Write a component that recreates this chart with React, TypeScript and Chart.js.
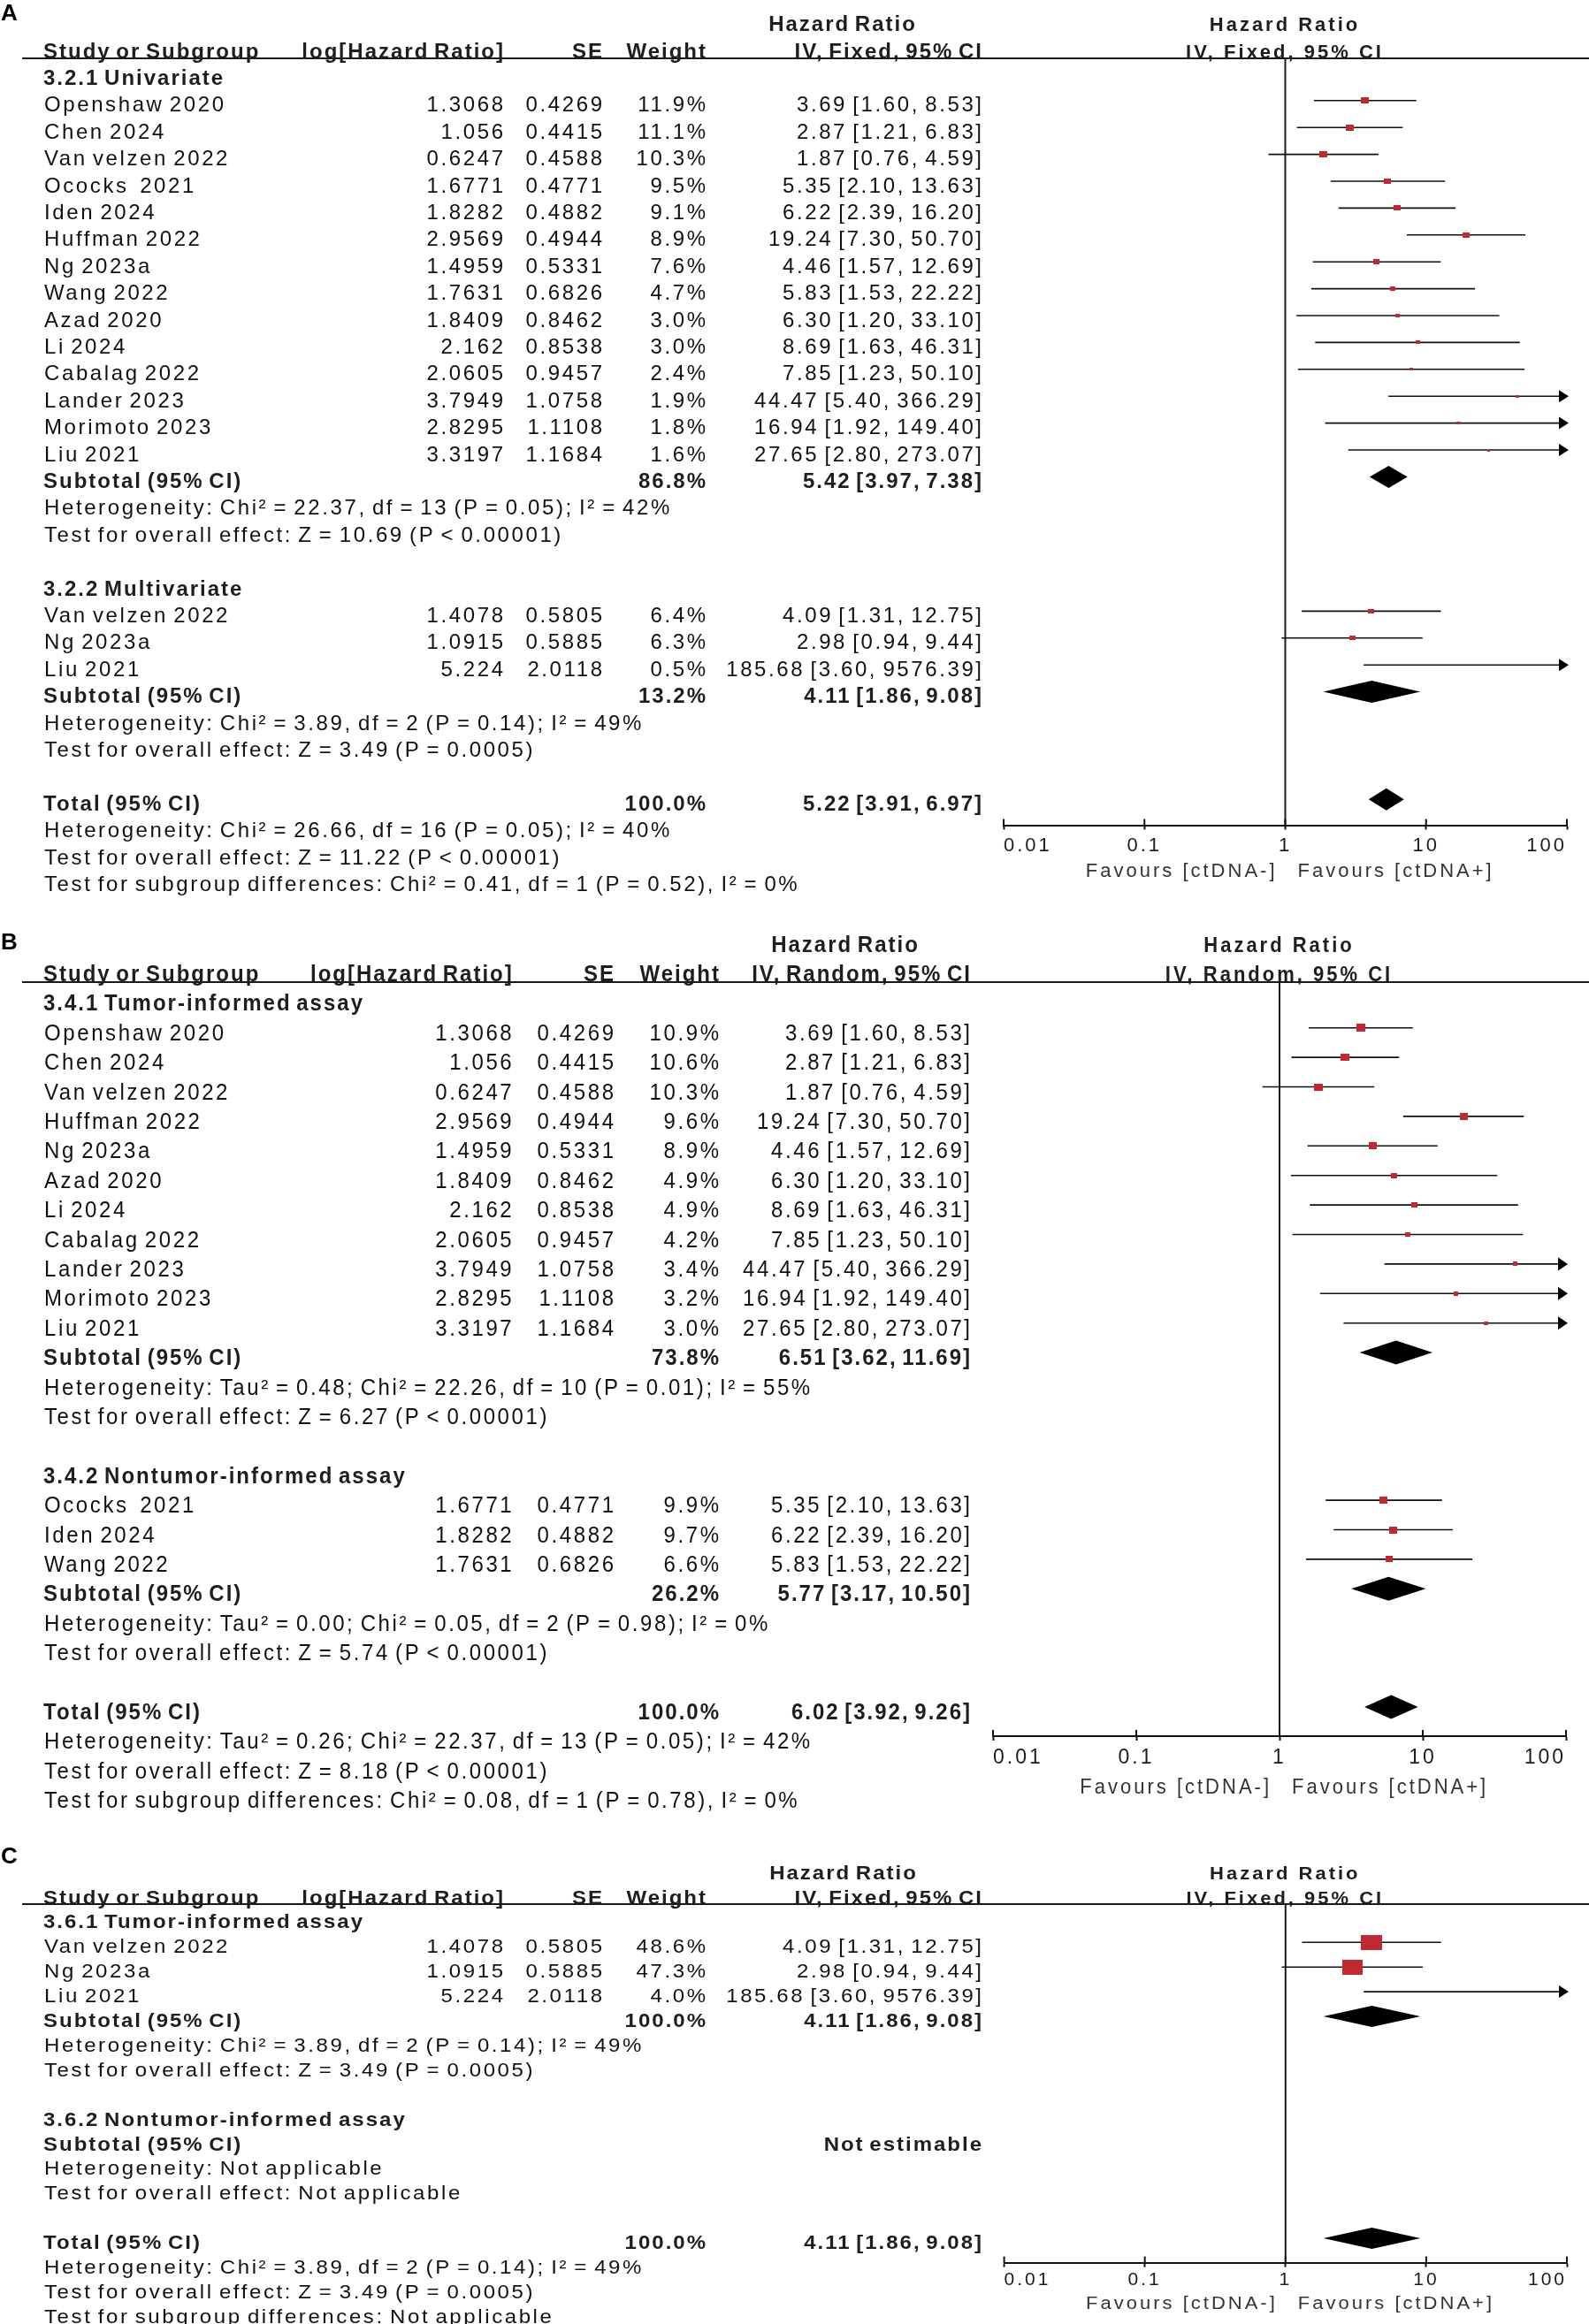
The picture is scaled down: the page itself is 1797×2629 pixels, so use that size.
import React, { useEffect, useRef } from "react";
import { Chart, registerables } from "chart.js";

Chart.register(...registerables);

const FONT = '"Liberation Sans", Arial, Helvetica, sans-serif';
const PAGE_W = 1797;

// ===================== shared labels =====================
const tickValues = [0.01, 0.1, 1, 10, 100];
const tickLabels = ["0.01", "0.1", "1", "10", "100"];
const favoursLabels = ["Favours [ctDNA-]", "Favours [ctDNA+]"];
const columnHeaders = ["Study or Subgroup", "log[Hazard Ratio]", "SE", "Weight"];
const effectTitle = "Hazard Ratio";
const subtotalLabel = "Subtotal (95% CI)";
const totalLabel = "Total (95% CI)";
const notEstimable = "Not estimable";

// ===================== Panel A =====================
const aMethod = "IV, Fixed, 95% CI";
const a1Title = "3.2.1 Univariate";
const a1Names = ["Openshaw 2020", "Chen 2024", "Van velzen 2022", "Ococks  2021", "Iden 2024", "Huffman 2022", "Ng 2023a", "Wang 2022", "Azad 2020", "Li 2024", "Cabalag 2022", "Lander 2023", "Morimoto 2023", "Liu 2021"];
const a1LogHR = [1.3068, 1.056, 0.6247, 1.6771, 1.8282, 2.9569, 1.4959, 1.7631, 1.8409, 2.162, 2.0605, 3.7949, 2.8295, 3.3197];
const a1SE = [0.4269, 0.4415, 0.4588, 0.4771, 0.4882, 0.4944, 0.5331, 0.6826, 0.8462, 0.8538, 0.9457, 1.0758, 1.1108, 1.1684];
const a1Weight = [11.9, 11.1, 10.3, 9.5, 9.1, 8.9, 7.6, 4.7, 3.0, 3.0, 2.4, 1.9, 1.8, 1.6];
const a1HR = [3.69, 2.87, 1.87, 5.35, 6.22, 19.24, 4.46, 5.83, 6.30, 8.69, 7.85, 44.47, 16.94, 27.65];
const a1Lower = [1.60, 1.21, 0.76, 2.10, 2.39, 7.30, 1.57, 1.53, 1.20, 1.63, 1.23, 5.40, 1.92, 2.80];
const a1Upper = [8.53, 6.83, 4.59, 13.63, 16.20, 50.70, 12.69, 22.22, 33.10, 46.31, 50.10, 366.29, 149.40, 273.07];
const a1Subtotal = [86.8, 5.42, 3.97, 7.38];
const a1Het = "Heterogeneity: Chi² = 22.37, df = 13 (P = 0.05); I² = 42%";
const a1Overall = "Test for overall effect: Z = 10.69 (P < 0.00001)";

const a2Title = "3.2.2 Multivariate";
const a2Names = ["Van velzen 2022", "Ng 2023a", "Liu 2021"];
const a2LogHR = [1.4078, 1.0915, 5.224];
const a2SE = [0.5805, 0.5885, 2.0118];
const a2Weight = [6.4, 6.3, 0.5];
const a2HR = [4.09, 2.98, 185.68];
const a2Lower = [1.31, 0.94, 3.60];
const a2Upper = [12.75, 9.44, 9576.39];
const a2Subtotal = [13.2, 4.11, 1.86, 9.08];
const a2Het = "Heterogeneity: Chi² = 3.89, df = 2 (P = 0.14); I² = 49%";
const a2Overall = "Test for overall effect: Z = 3.49 (P = 0.0005)";

const aTotal = [100.0, 5.22, 3.91, 6.97];
const aTotalHet = "Heterogeneity: Chi² = 26.66, df = 16 (P = 0.05); I² = 40%";
const aTotalOverall = "Test for overall effect: Z = 11.22 (P < 0.00001)";
const aSubgroup = "Test for subgroup differences: Chi² = 0.41, df = 1 (P = 0.52), I² = 0%";

// ===================== Panel B =====================
const bMethod = "IV, Random, 95% CI";
const b1Title = "3.4.1 Tumor-informed assay";
const b1Names = ["Openshaw 2020", "Chen 2024", "Van velzen 2022", "Huffman 2022", "Ng 2023a", "Azad 2020", "Li 2024", "Cabalag 2022", "Lander 2023", "Morimoto 2023", "Liu 2021"];
const b1LogHR = [1.3068, 1.056, 0.6247, 2.9569, 1.4959, 1.8409, 2.162, 2.0605, 3.7949, 2.8295, 3.3197];
const b1SE = [0.4269, 0.4415, 0.4588, 0.4944, 0.5331, 0.8462, 0.8538, 0.9457, 1.0758, 1.1108, 1.1684];
const b1Weight = [10.9, 10.6, 10.3, 9.6, 8.9, 4.9, 4.9, 4.2, 3.4, 3.2, 3.0];
const b1HR = [3.69, 2.87, 1.87, 19.24, 4.46, 6.30, 8.69, 7.85, 44.47, 16.94, 27.65];
const b1Lower = [1.60, 1.21, 0.76, 7.30, 1.57, 1.20, 1.63, 1.23, 5.40, 1.92, 2.80];
const b1Upper = [8.53, 6.83, 4.59, 50.70, 12.69, 33.10, 46.31, 50.10, 366.29, 149.40, 273.07];
const b1Subtotal = [73.8, 6.51, 3.62, 11.69];
const b1Het = "Heterogeneity: Tau² = 0.48; Chi² = 22.26, df = 10 (P = 0.01); I² = 55%";
const b1Overall = "Test for overall effect: Z = 6.27 (P < 0.00001)";

const b2Title = "3.4.2 Nontumor-informed assay";
const b2Names = ["Ococks  2021", "Iden 2024", "Wang 2022"];
const b2LogHR = [1.6771, 1.8282, 1.7631];
const b2SE = [0.4771, 0.4882, 0.6826];
const b2Weight = [9.9, 9.7, 6.6];
const b2HR = [5.35, 6.22, 5.83];
const b2Lower = [2.10, 2.39, 1.53];
const b2Upper = [13.63, 16.20, 22.22];
const b2Subtotal = [26.2, 5.77, 3.17, 10.50];
const b2Het = "Heterogeneity: Tau² = 0.00; Chi² = 0.05, df = 2 (P = 0.98); I² = 0%";
const b2Overall = "Test for overall effect: Z = 5.74 (P < 0.00001)";

const bTotal = [100.0, 6.02, 3.92, 9.26];
const bTotalHet = "Heterogeneity: Tau² = 0.26; Chi² = 22.37, df = 13 (P = 0.05); I² = 42%";
const bTotalOverall = "Test for overall effect: Z = 8.18 (P < 0.00001)";
const bSubgroup = "Test for subgroup differences: Chi² = 0.08, df = 1 (P = 0.78), I² = 0%";

// ===================== Panel C =====================
const cMethod = "IV, Fixed, 95% CI";
const c1Title = "3.6.1 Tumor-informed assay";
const c1Names = ["Van velzen 2022", "Ng 2023a", "Liu 2021"];
const c1LogHR = [1.4078, 1.0915, 5.224];
const c1SE = [0.5805, 0.5885, 2.0118];
const c1Weight = [48.6, 47.3, 4.0];
const c1HR = [4.09, 2.98, 185.68];
const c1Lower = [1.31, 0.94, 3.60];
const c1Upper = [12.75, 9.44, 9576.39];
const c1Subtotal = [100.0, 4.11, 1.86, 9.08];
const c1Het = "Heterogeneity: Chi² = 3.89, df = 2 (P = 0.14); I² = 49%";
const c1Overall = "Test for overall effect: Z = 3.49 (P = 0.0005)";

const c2Title = "3.6.2 Nontumor-informed assay";
const c2Het = "Heterogeneity: Not applicable";
const c2Overall = "Test for overall effect: Not applicable";

const cTotal = [100.0, 4.11, 1.86, 9.08];
const cTotalHet = "Heterogeneity: Chi² = 3.89, df = 2 (P = 0.14); I² = 49%";
const cTotalOverall = "Test for overall effect: Z = 3.49 (P = 0.0005)";
const cSubgroup = "Test for subgroup differences: Not applicable";

// ===================== types & layout =====================
type Section = {
  title: string;
  names: string[];
  logHR: number[];
  se: number[];
  weight: number[];
  hr: number[];
  lower: number[];
  upper: number[];
  subtotal: number[] | null;
  het: string;
  overall: string;
};

type Layout = {
  top: number; height: number; row0: number; pitch: number; headerY: number; axisY: number;
  x001: number; x100: number; vs: number; baseOff: number;
  colName: number; colLog: number; colSE: number; colW: number; colCI: number; colHR: number;
  boxK: number; boxAspect: number; diamondH: number; arrowLen: number; arrowH: number;
  tickFont: number; tickPad: number; favBase: number; letterBase: number;
};

type PanelSpec = {
  letter: string;
  method: string;
  sections: Section[];
  total: number[];
  totalHet: string;
  totalOverall: string;
  subgroup: string;
  layout: Layout;
};

const layoutA: Layout = {
  top: 0, height: 1032, row0: 113.8, pitch: 30.4, headerY: 66, axisY: 933.5,
  x001: 1135, x100: 1772, vs: 1.0, baseOff: 12.6,
  colName: 49, colLog: 569, colSE: 681, colW: 798, colCI: 1110, colHR: 952,
  boxK: 2.7, boxAspect: 0.78, diamondH: 12.5, arrowLen: 11, arrowH: 7,
  tickFont: 22, tickPad: 7, favBase: 58, letterBase: 23,
};
const layoutB: Layout = {
  top: 1032, height: 1048, row0: 1162.7, pitch: 33.4, headerY: 1111, axisY: 1964,
  x001: 1123, x100: 1771, vs: 1.1, baseOff: 14,
  colName: 49, colLog: 578.7, colSE: 694, colW: 813, colCI: 1097, colHR: 955,
  boxK: 2.97, boxAspect: 0.87, diamondH: 13.5, arrowLen: 11, arrowH: 7.5,
  tickFont: 23, tickPad: 8, favBase: 64.5, letterBase: 1074,
};
const layoutC: Layout = {
  top: 2080, height: 549, row0: 2197.3, pitch: 27.9, headerY: 2154, axisY: 2559.6,
  x001: 1135.6, x100: 1772, vs: 0.92, baseOff: 12,
  colName: 49, colLog: 569, colSE: 681, colW: 798, colCI: 1110, colHR: 953,
  boxK: 3.4, boxAspect: 0.73, diamondH: 12, arrowLen: 11, arrowH: 7,
  tickFont: 21, tickPad: 4, favBase: 52.6, letterBase: 2108,
};

const panels: PanelSpec[] = [
  {
    letter: "A", method: aMethod, layout: layoutA,
    sections: [
      { title: a1Title, names: a1Names, logHR: a1LogHR, se: a1SE, weight: a1Weight, hr: a1HR, lower: a1Lower, upper: a1Upper, subtotal: a1Subtotal, het: a1Het, overall: a1Overall },
      { title: a2Title, names: a2Names, logHR: a2LogHR, se: a2SE, weight: a2Weight, hr: a2HR, lower: a2Lower, upper: a2Upper, subtotal: a2Subtotal, het: a2Het, overall: a2Overall },
    ],
    total: aTotal, totalHet: aTotalHet, totalOverall: aTotalOverall, subgroup: aSubgroup,
  },
  {
    letter: "B", method: bMethod, layout: layoutB,
    sections: [
      { title: b1Title, names: b1Names, logHR: b1LogHR, se: b1SE, weight: b1Weight, hr: b1HR, lower: b1Lower, upper: b1Upper, subtotal: b1Subtotal, het: b1Het, overall: b1Overall },
      { title: b2Title, names: b2Names, logHR: b2LogHR, se: b2SE, weight: b2Weight, hr: b2HR, lower: b2Lower, upper: b2Upper, subtotal: b2Subtotal, het: b2Het, overall: b2Overall },
    ],
    total: bTotal, totalHet: bTotalHet, totalOverall: bTotalOverall, subgroup: bSubgroup,
  },
  {
    letter: "C", method: cMethod, layout: layoutC,
    sections: [
      { title: c1Title, names: c1Names, logHR: c1LogHR, se: c1SE, weight: c1Weight, hr: c1HR, lower: c1Lower, upper: c1Upper, subtotal: c1Subtotal, het: c1Het, overall: c1Overall },
      { title: c2Title, names: [], logHR: [], se: [], weight: [], hr: [], lower: [], upper: [], subtotal: null, het: c2Het, overall: c2Overall },
    ],
    total: cTotal, totalHet: cTotalHet, totalOverall: cTotalOverall, subgroup: cSubgroup,
  },
];

// ===================== builders =====================
type TextItem = { row: number; text: string; x: number; align: CanvasTextAlign; bold?: boolean; plot?: boolean };
type Mark = { row: number; est: number; lo: number; hi: number; w: number };
type Diamond = { row: number; est: number; lo: number; hi: number };

const fmtW = (w: number) => `${w.toFixed(1)}%`;
const fmtCI = (e: number, l: number, h: number) => `${e.toFixed(2)} [${l.toFixed(2)}, ${h.toFixed(2)}]`;

function buildPanel(spec: PanelSpec) {
  const L = spec.layout;
  const texts: TextItem[] = [];
  const marks: Mark[] = [];
  const diamonds: Diamond[] = [];
  texts.push({ row: -3, text: effectTitle, x: L.colHR, align: "center", bold: true });
  texts.push({ row: -3, text: effectTitle, x: 0, align: "center", bold: true, plot: true });
  texts.push({ row: -2, text: columnHeaders[0], x: L.colName, align: "left", bold: true });
  texts.push({ row: -2, text: columnHeaders[1], x: L.colLog, align: "right", bold: true });
  texts.push({ row: -2, text: columnHeaders[2], x: L.colSE, align: "right", bold: true });
  texts.push({ row: -2, text: columnHeaders[3], x: L.colW, align: "right", bold: true });
  texts.push({ row: -2, text: spec.method, x: L.colCI, align: "right", bold: true });
  texts.push({ row: -2, text: spec.method, x: 0, align: "center", bold: true, plot: true });
  let row = -1;
  for (const s of spec.sections) {
    texts.push({ row, text: s.title, x: L.colName, align: "left", bold: true });
    row++;
    s.names.forEach((n, i) => {
      texts.push({ row, text: n, x: L.colName + 1, align: "left" });
      texts.push({ row, text: String(s.logHR[i]), x: L.colLog, align: "right" });
      texts.push({ row, text: String(s.se[i]), x: L.colSE, align: "right" });
      texts.push({ row, text: fmtW(s.weight[i]), x: L.colW, align: "right" });
      texts.push({ row, text: fmtCI(s.hr[i], s.lower[i], s.upper[i]), x: L.colCI, align: "right" });
      marks.push({ row, est: s.hr[i], lo: s.lower[i], hi: s.upper[i], w: s.weight[i] });
      row++;
    });
    texts.push({ row, text: subtotalLabel, x: L.colName, align: "left", bold: true });
    if (s.subtotal) {
      const [w, e, l, h] = s.subtotal;
      texts.push({ row, text: fmtW(w), x: L.colW, align: "right", bold: true });
      texts.push({ row, text: fmtCI(e, l, h), x: L.colCI, align: "right", bold: true });
      diamonds.push({ row, est: e, lo: l, hi: h });
    } else {
      texts.push({ row, text: notEstimable, x: L.colCI, align: "right", bold: true });
    }
    row++;
    texts.push({ row, text: s.het, x: L.colName + 1, align: "left" });
    row++;
    texts.push({ row, text: s.overall, x: L.colName + 1, align: "left" });
    row++;
    row++;
  }
  const [tw, te, tl, th] = spec.total;
  texts.push({ row, text: totalLabel, x: L.colName, align: "left", bold: true });
  texts.push({ row, text: fmtW(tw), x: L.colW, align: "right", bold: true });
  texts.push({ row, text: fmtCI(te, tl, th), x: L.colCI, align: "right", bold: true });
  diamonds.push({ row, est: te, lo: tl, hi: th });
  row++;
  texts.push({ row, text: spec.totalHet, x: L.colName + 1, align: "left" });
  row++;
  texts.push({ row, text: spec.totalOverall, x: L.colName + 1, align: "left" });
  row++;
  texts.push({ row, text: spec.subgroup, x: L.colName + 1, align: "left" });
  return { texts, marks, diamonds };
}

const LS = 3;
const BODY_SIZE = 24;
const BODY_LS = 2.6;
const BOLD_LS = 2.0;
const WORD_SP = -3;
const TEXT_COLOR = "#111111";
const BOLD_COLOR = "#1e1e1e";
const MARK_COLOR = "#BF2A32";

function drawTxt(
  ctx: CanvasRenderingContext2D, text: string, x: number, y: number, align: CanvasTextAlign,
  bold: boolean, size: number, vs: number, ls: number, color: string, ws = 0,
) {
  ctx.save();
  ctx.font = `${bold ? "bold " : ""}${size}px ${FONT}`;
  (ctx as any).letterSpacing = `${ls}px`;
  (ctx as any).wordSpacing = `${ws}px`;
  ctx.fillStyle = color;
  ctx.textAlign = align;
  ctx.textBaseline = "alphabetic";
  const dx = align === "right" ? ls : align === "center" ? ls / 2 : 0;
  ctx.translate(x + dx, y);
  ctx.scale(1, vs);
  ctx.fillText(text, 0, 0);
  ctx.restore();
}

function boxCanvas(w: number, h: number) {
  const c = document.createElement("canvas");
  c.width = Math.max(2, Math.round(w));
  c.height = Math.max(2, Math.round(h));
  const g = c.getContext("2d")!;
  g.fillStyle = MARK_COLOR;
  g.fillRect(0, 0, c.width, c.height);
  return c;
}

function ForestPanel({ spec }: { spec: PanelSpec }) {
  const ref = useRef<HTMLCanvasElement>(null);
  const L = spec.layout;
  useEffect(() => {
    const canvas = ref.current;
    if (!canvas) return;
    const { texts, marks, diamonds } = buildPanel(spec);
    const local = (y: number) => y - L.top;
    const yMin = (L.headerY - L.row0) / L.pitch;
    const yMax = (L.axisY - L.row0) / L.pitch;
    const scaleH = 60;

    const datasets: any[] = [];
    marks.forEach((m) => {
      datasets.push({
        type: "line",
        data: [{ x: m.lo, y: m.row }, { x: m.hi, y: m.row }],
        borderColor: "#111111",
        borderWidth: 1.6,
        pointRadius: 0,
        fill: false,
        tension: 0,
        order: 2,
      });
    });
    const visible = marks.filter((m) => m.est >= 0.01 && m.est <= 100);
    datasets.push({
      type: "scatter",
      data: visible.map((m) => ({ x: m.est, y: m.row })),
      pointStyle: visible.map((m) => {
        const w = L.boxK * Math.sqrt(m.w);
        return boxCanvas(w, w * L.boxAspect);
      }),
      pointRadius: 5,
      showLine: false,
      order: 0,
    });

    const forestPlugin = {
      id: "forestDecor" + spec.letter,
      beforeDraw(chart: any) {
        (chart.ctx as any).letterSpacing = `${LS}px`;
      },
      beforeDatasetsDraw(chart: any) {
        const ctx = chart.ctx as CanvasRenderingContext2D;
        const xs = chart.scales.x;
        const ca = chart.chartArea;
        const x1 = xs.getPixelForValue(1);
        ctx.save();
        ctx.strokeStyle = "#1a1a1a";
        ctx.lineWidth = 2;
        ctx.beginPath();
        ctx.moveTo(x1, ca.top);
        ctx.lineTo(x1, ca.bottom);
        ctx.stroke();
        ctx.restore();
      },
      afterDatasetsDraw(chart: any) {
        const ctx = chart.ctx as CanvasRenderingContext2D;
        const xs = chart.scales.x;
        const ys = chart.scales.y;
        ctx.save();
        ctx.fillStyle = "#000";
        marks.forEach((m) => {
          if (m.hi > tickValues[tickValues.length - 1]) {
            const xr = xs.getPixelForValue(tickValues[tickValues.length - 1]) + 2;
            const y = ys.getPixelForValue(m.row);
            ctx.beginPath();
            ctx.moveTo(xr, y);
            ctx.lineTo(xr - L.arrowLen, y - L.arrowH);
            ctx.lineTo(xr - L.arrowLen, y + L.arrowH);
            ctx.closePath();
            ctx.fill();
          }
        });
        diamonds.forEach((d) => {
          const y = ys.getPixelForValue(d.row);
          const xl = xs.getPixelForValue(d.lo);
          const xe = xs.getPixelForValue(d.est);
          const xh = xs.getPixelForValue(d.hi);
          ctx.beginPath();
          ctx.moveTo(xl, y);
          ctx.lineTo(xe, y - L.diamondH);
          ctx.lineTo(xh, y);
          ctx.lineTo(xe, y + L.diamondH);
          ctx.closePath();
          ctx.fill();
        });
        ctx.restore();
      },
      afterDraw(chart: any) {
        const ctx = chart.ctx as CanvasRenderingContext2D;
        const xs = chart.scales.x;
        const ys = chart.scales.y;
        const ca = chart.chartArea;
        const x1 = xs.getPixelForValue(1);
        ctx.save();
        ctx.strokeStyle = "#111";
        ctx.lineWidth = 2;
        tickValues.forEach((v) => {
          const px = xs.getPixelForValue(v);
          ctx.beginPath();
          ctx.moveTo(px, ca.bottom - 7);
          ctx.lineTo(px, ca.bottom);
          ctx.stroke();
        });
        ctx.strokeStyle = "#1a1a1a";
        ctx.lineWidth = 2;
        ctx.beginPath();
        ctx.moveTo(25, ca.top);
        ctx.lineTo(PAGE_W, ca.top);
        ctx.stroke();
        ctx.restore();
        texts.forEach((t) => {
          const y = ys.getPixelForValue(t.row) + L.baseOff;
          if (t.plot) {
            drawTxt(ctx, t.text, x1 - 2, y, t.align, true, 22, L.vs, LS, BOLD_COLOR);
          } else {
            drawTxt(ctx, t.text, t.x, y, t.align, !!t.bold, BODY_SIZE, L.vs, t.bold ? BOLD_LS : BODY_LS,
              t.bold ? BOLD_COLOR : TEXT_COLOR, WORD_SP);
          }
        });
        const fy = ca.bottom + L.favBase;
        drawTxt(ctx, favoursLabels[0], x1 - 12, fy, "right", false, 22, L.vs, LS, "#333");
        drawTxt(ctx, favoursLabels[1], x1 + 14, fy, "left", false, 22, L.vs, LS, "#333");
        drawTxt(ctx, spec.letter, 1, local(L.letterBase), "left", true, 26, 1, 0, "#000");
        (ctx as any).letterSpacing = "0px";
      },
    };

    const chart = new Chart(canvas, {
      type: "scatter",
      data: { datasets },
      plugins: [forestPlugin as any],
      options: {
        responsive: false,
        maintainAspectRatio: false,
        animation: false,
        devicePixelRatio: 1,
        events: [],
        layout: {
          padding: {
            left: L.x001,
            right: PAGE_W - L.x100,
            top: local(L.headerY),
            bottom: L.height - local(L.axisY) - scaleH,
          },
        },
        plugins: {
          legend: { display: false },
          tooltip: { enabled: false },
          title: { display: false },
        },
        scales: {
          x: {
            type: "logarithmic",
            position: "bottom",
            min: tickValues[0],
            max: tickValues[tickValues.length - 1],
            bounds: "data",
            afterBuildTicks: (s: any) => {
              s.ticks = tickValues.map((v) => ({ value: v }));
            },
            afterFit: (s: any) => {
              s.height = scaleH;
              s.paddingLeft = 0;
              s.paddingRight = 0;
            },
            ticks: {
              autoSkip: false,
              maxRotation: 0,
              minRotation: 0,
              align: "inner",
              padding: L.tickPad,
              color: "#1c1c1c",
              font: { family: FONT, size: L.tickFont, lineHeight: 1 },
              callback: (v: any) => {
                const i = tickValues.findIndex((t) => Math.abs(Math.log10(t) - Math.log10(Number(v))) < 1e-6);
                return i >= 0 ? tickLabels[i] : "";
              },
            },
            grid: { drawOnChartArea: false, drawTicks: true, tickLength: 5, tickWidth: 2, tickColor: "#111" },
            border: { display: true, color: "#111", width: 2 },
          },
          y: {
            type: "linear",
            display: false,
            reverse: true,
            bounds: "data",
            min: yMin,
            max: yMax,
          },
        },
      } as any,
    });
    return () => chart.destroy();
  }, [spec]);
  return (
    <canvas
      ref={ref}
      width={PAGE_W}
      height={L.height}
      style={{ position: "absolute", left: 0, top: L.top, width: PAGE_W, height: L.height, display: "block" }}
    />
  );
}

export default function App() {
  return (
    <div style={{ position: "absolute", left: 0, top: 0, width: PAGE_W, height: 2629, background: "#ffffff", overflow: "hidden" }}>
      {panels.map((p) => (
        <ForestPanel key={p.letter} spec={p} />
      ))}
    </div>
  );
}
